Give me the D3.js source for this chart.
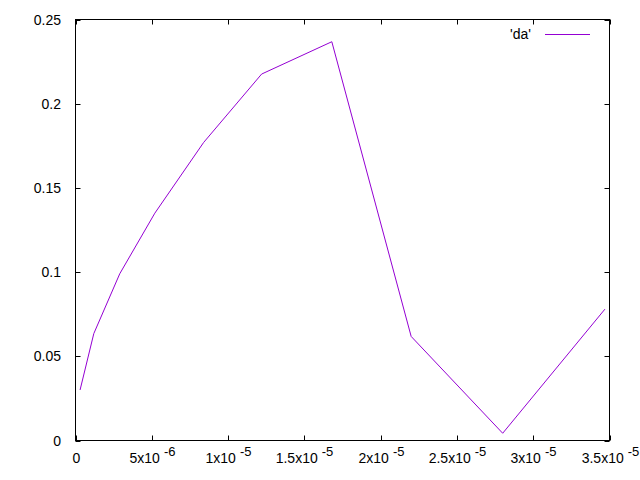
<!DOCTYPE html>
<html><head><meta charset="utf-8">
<script src="https://cdn.jsdelivr.net/npm/d3@7"></script>
<style>body{margin:0;background:#fff}text{font-family:"Liberation Sans",Arial,sans-serif;font-size:14px;fill:#000}</style>
</head><body><svg id="c" width="640" height="480"></svg>
<script>
const xValues = [3e-7, 1.2e-6, 2.9e-6, 5.2e-6, 8.4e-6, 1.22e-5, 1.68e-5, 2.2e-5, 2.8e-5, 3.47e-5];
const yValues = [0.030, 0.0635, 0.099, 0.135, 0.177, 0.2176, 0.2368, 0.0618, 0.0043, 0.078];
const xTicks = [0, 5e-6, 1e-5, 1.5e-5, 2e-5, 2.5e-5, 3e-5, 3.5e-5];
const xTickMant = ["0", "5x10", "1x10", "1.5x10", "2x10", "2.5x10", "3x10", "3.5x10"];
const xTickExp = ["", "-6", "-5", "-5", "-5", "-5", "-5", "-5"];
const yTicks = [0, 0.05, 0.1, 0.15, 0.2, 0.25];
const yTickLabels = ["0", "0.05", "0.1", "0.15", "0.2", "0.25"];
const seriesName = "'da'";

const L = 75.5, R = 609.5, T = 19.5, B = 440.5;
const svg = d3.select("#c");
const x = d3.scaleLinear().domain([0, 3.5e-5]).range([L, R]);
const y = d3.scaleLinear().domain([0, 0.25]).range([B, T]);
const tk = 5;

const g = svg.append("g");
// ticks (inward, mirrored)
xTicks.forEach((v, i) => {
  const px = Math.round(x(v)) + 0.5;
  g.append("line").attr("x1", px).attr("x2", px).attr("y1", B).attr("y2", B - tk).attr("stroke", "#000");
  g.append("line").attr("x1", px).attr("x2", px).attr("y1", T).attr("y2", T + tk).attr("stroke", "#000");
  const t = g.append("text").attr("x", px).attr("y", 463).attr("text-anchor", "middle");
  t.append("tspan").text(xTickMant[i]);
  if (xTickExp[i]) {
    t.append("tspan").attr("dx", 4).attr("dy", -7).attr("font-size", "13px").text(xTickExp[i]);
  }
});
yTicks.forEach((v, i) => {
  const py = Math.round(y(v)) + 0.5;
  g.append("line").attr("x1", L).attr("x2", L + tk).attr("y1", py).attr("y2", py).attr("stroke", "#000");
  g.append("line").attr("x1", R).attr("x2", R - tk).attr("y1", py).attr("y2", py).attr("stroke", "#000");
  g.append("text").attr("x", 61).attr("y", py).attr("dy", "0.35em").attr("text-anchor", "end").text(yTickLabels[i]);
});
// border
g.append("rect").attr("x", L).attr("y", T).attr("width", R - L).attr("height", B - T)
  .attr("fill", "none").attr("stroke", "#000");

// line
const data = xValues.map((v, i) => [v, yValues[i]]);
svg.append("path").datum(data)
  .attr("d", d3.line().x(d => x(d[0])).y(d => y(d[1])))
  .attr("fill", "none").attr("stroke", "#9400D3").attr("stroke-width", 1);

// legend
svg.append("text").attr("x", 531).attr("y", 34).attr("dy", "0.35em").attr("text-anchor", "end").text(seriesName);
svg.append("line").attr("x1", 545).attr("x2", 590).attr("y1", 34.5).attr("y2", 34.5).attr("stroke", "#9400D3");
</script></body></html>
